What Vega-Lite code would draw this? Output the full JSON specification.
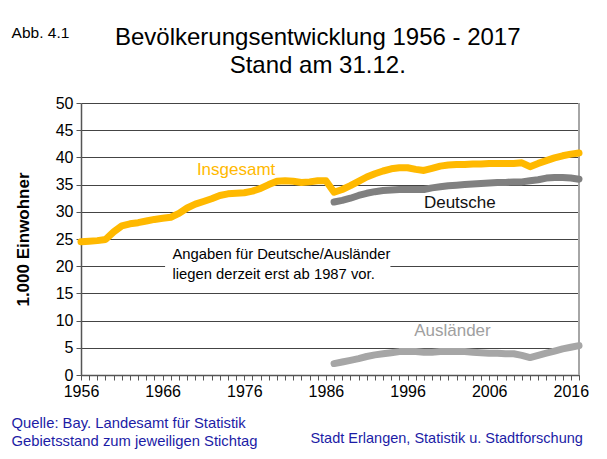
{
  "$schema": "https://vega.github.io/schema/vega-lite/v6.json",
  "width": 498,
  "height": 272,
  "autosize": {"type": "none"},
  "padding": {"left": 81, "top": 103, "right": 28, "bottom": 84},
  "background": "white",
  "config": {
    "font": "Liberation Sans",
    "view": {"stroke": null}
  },
  "datasets": {
    "pop": [
      {"year": 1956, "series": "Insgesamt", "value": 24.5},
      {"year": 1957, "series": "Insgesamt", "value": 24.6},
      {"year": 1958, "series": "Insgesamt", "value": 24.7},
      {"year": 1959, "series": "Insgesamt", "value": 24.9},
      {"year": 1960, "series": "Insgesamt", "value": 26.3},
      {"year": 1961, "series": "Insgesamt", "value": 27.4},
      {"year": 1962, "series": "Insgesamt", "value": 27.8},
      {"year": 1963, "series": "Insgesamt", "value": 28.0},
      {"year": 1964, "series": "Insgesamt", "value": 28.3},
      {"year": 1965, "series": "Insgesamt", "value": 28.6},
      {"year": 1966, "series": "Insgesamt", "value": 28.8},
      {"year": 1967, "series": "Insgesamt", "value": 29.0},
      {"year": 1968, "series": "Insgesamt", "value": 29.7},
      {"year": 1969, "series": "Insgesamt", "value": 30.7},
      {"year": 1970, "series": "Insgesamt", "value": 31.4},
      {"year": 1971, "series": "Insgesamt", "value": 31.9},
      {"year": 1972, "series": "Insgesamt", "value": 32.4},
      {"year": 1973, "series": "Insgesamt", "value": 33.0},
      {"year": 1974, "series": "Insgesamt", "value": 33.3},
      {"year": 1975, "series": "Insgesamt", "value": 33.4},
      {"year": 1976, "series": "Insgesamt", "value": 33.5},
      {"year": 1977, "series": "Insgesamt", "value": 33.8},
      {"year": 1978, "series": "Insgesamt", "value": 34.3},
      {"year": 1979, "series": "Insgesamt", "value": 35.0},
      {"year": 1980, "series": "Insgesamt", "value": 35.6},
      {"year": 1981, "series": "Insgesamt", "value": 35.7},
      {"year": 1982, "series": "Insgesamt", "value": 35.6},
      {"year": 1983, "series": "Insgesamt", "value": 35.4},
      {"year": 1984, "series": "Insgesamt", "value": 35.5},
      {"year": 1985, "series": "Insgesamt", "value": 35.7},
      {"year": 1986, "series": "Insgesamt", "value": 35.7},
      {"year": 1987, "series": "Insgesamt", "value": 33.6},
      {"year": 1988, "series": "Insgesamt", "value": 34.1},
      {"year": 1989, "series": "Insgesamt", "value": 34.8},
      {"year": 1990, "series": "Insgesamt", "value": 35.6},
      {"year": 1991, "series": "Insgesamt", "value": 36.4},
      {"year": 1992, "series": "Insgesamt", "value": 37.0},
      {"year": 1993, "series": "Insgesamt", "value": 37.5},
      {"year": 1994, "series": "Insgesamt", "value": 37.9},
      {"year": 1995, "series": "Insgesamt", "value": 38.1},
      {"year": 1996, "series": "Insgesamt", "value": 38.1},
      {"year": 1997, "series": "Insgesamt", "value": 37.8},
      {"year": 1998, "series": "Insgesamt", "value": 37.6},
      {"year": 1999, "series": "Insgesamt", "value": 38.0},
      {"year": 2000, "series": "Insgesamt", "value": 38.4},
      {"year": 2001, "series": "Insgesamt", "value": 38.6},
      {"year": 2002, "series": "Insgesamt", "value": 38.7},
      {"year": 2003, "series": "Insgesamt", "value": 38.7},
      {"year": 2004, "series": "Insgesamt", "value": 38.8},
      {"year": 2005, "series": "Insgesamt", "value": 38.8},
      {"year": 2006, "series": "Insgesamt", "value": 38.9},
      {"year": 2007, "series": "Insgesamt", "value": 38.9},
      {"year": 2008, "series": "Insgesamt", "value": 38.9},
      {"year": 2009, "series": "Insgesamt", "value": 38.9},
      {"year": 2010, "series": "Insgesamt", "value": 39.0},
      {"year": 2011, "series": "Insgesamt", "value": 38.3},
      {"year": 2012, "series": "Insgesamt", "value": 38.9},
      {"year": 2013, "series": "Insgesamt", "value": 39.4},
      {"year": 2014, "series": "Insgesamt", "value": 39.9},
      {"year": 2015, "series": "Insgesamt", "value": 40.3},
      {"year": 2016, "series": "Insgesamt", "value": 40.6},
      {"year": 2017, "series": "Insgesamt", "value": 40.8},
      {"year": 1987, "series": "Deutsche", "value": 31.8},
      {"year": 1988, "series": "Deutsche", "value": 32.1},
      {"year": 1989, "series": "Deutsche", "value": 32.5},
      {"year": 1990, "series": "Deutsche", "value": 33.0},
      {"year": 1991, "series": "Deutsche", "value": 33.4},
      {"year": 1992, "series": "Deutsche", "value": 33.7},
      {"year": 1993, "series": "Deutsche", "value": 33.9},
      {"year": 1994, "series": "Deutsche", "value": 34.0},
      {"year": 1995, "series": "Deutsche", "value": 34.1},
      {"year": 1996, "series": "Deutsche", "value": 34.1},
      {"year": 1997, "series": "Deutsche", "value": 34.1},
      {"year": 1998, "series": "Deutsche", "value": 34.1},
      {"year": 1999, "series": "Deutsche", "value": 34.4},
      {"year": 2000, "series": "Deutsche", "value": 34.6},
      {"year": 2001, "series": "Deutsche", "value": 34.8},
      {"year": 2002, "series": "Deutsche", "value": 34.9},
      {"year": 2003, "series": "Deutsche", "value": 35.0},
      {"year": 2004, "series": "Deutsche", "value": 35.1},
      {"year": 2005, "series": "Deutsche", "value": 35.2},
      {"year": 2006, "series": "Deutsche", "value": 35.3},
      {"year": 2007, "series": "Deutsche", "value": 35.4},
      {"year": 2008, "series": "Deutsche", "value": 35.4},
      {"year": 2009, "series": "Deutsche", "value": 35.5},
      {"year": 2010, "series": "Deutsche", "value": 35.5},
      {"year": 2011, "series": "Deutsche", "value": 35.7},
      {"year": 2012, "series": "Deutsche", "value": 35.9},
      {"year": 2013, "series": "Deutsche", "value": 36.2},
      {"year": 2014, "series": "Deutsche", "value": 36.3},
      {"year": 2015, "series": "Deutsche", "value": 36.3},
      {"year": 2016, "series": "Deutsche", "value": 36.2},
      {"year": 2017, "series": "Deutsche", "value": 36.0},
      {"year": 1987, "series": "Ausländer", "value": 2.1},
      {"year": 1988, "series": "Ausländer", "value": 2.4},
      {"year": 1989, "series": "Ausländer", "value": 2.7},
      {"year": 1990, "series": "Ausländer", "value": 3.0},
      {"year": 1991, "series": "Ausländer", "value": 3.4},
      {"year": 1992, "series": "Ausländer", "value": 3.7},
      {"year": 1993, "series": "Ausländer", "value": 3.9},
      {"year": 1994, "series": "Ausländer", "value": 4.1},
      {"year": 1995, "series": "Ausländer", "value": 4.3},
      {"year": 1996, "series": "Ausländer", "value": 4.3},
      {"year": 1997, "series": "Ausländer", "value": 4.3},
      {"year": 1998, "series": "Ausländer", "value": 4.2},
      {"year": 1999, "series": "Ausländer", "value": 4.2},
      {"year": 2000, "series": "Ausländer", "value": 4.3},
      {"year": 2001, "series": "Ausländer", "value": 4.3},
      {"year": 2002, "series": "Ausländer", "value": 4.3},
      {"year": 2003, "series": "Ausländer", "value": 4.3},
      {"year": 2004, "series": "Ausländer", "value": 4.2},
      {"year": 2005, "series": "Ausländer", "value": 4.1},
      {"year": 2006, "series": "Ausländer", "value": 4.0},
      {"year": 2007, "series": "Ausländer", "value": 4.0},
      {"year": 2008, "series": "Ausländer", "value": 3.9},
      {"year": 2009, "series": "Ausländer", "value": 3.9},
      {"year": 2010, "series": "Ausländer", "value": 3.6},
      {"year": 2011, "series": "Ausländer", "value": 3.2},
      {"year": 2012, "series": "Ausländer", "value": 3.6},
      {"year": 2013, "series": "Ausländer", "value": 4.0},
      {"year": 2014, "series": "Ausländer", "value": 4.4},
      {"year": 2015, "series": "Ausländer", "value": 4.8},
      {"year": 2016, "series": "Ausländer", "value": 5.1},
      {"year": 2017, "series": "Ausländer", "value": 5.4}
    ]
  },
  "layer": [
    {
      "data": {"name": "pop"},
      "mark": {"type": "line", "strokeWidth": 7, "strokeCap": "round", "strokeJoin": "round", "opacity": 0},
      "encoding": {
        "x": {"field": "year", "type": "quantitative",
          "scale": {"domain": [1956, 2017], "nice": false, "zero": false},
          "axis": {
            "title": null,
            "values": [1956,1957,1958,1959,1960,1961,1962,1963,1964,1965,1966,1967,1968,1969,1970,1971,1972,1973,1974,1975,1976,1977,1978,1979,1980,1981,1982,1983,1984,1985,1986,1987,1988,1989,1990,1991,1992,1993,1994,1995,1996,1997,1998,1999,2000,2001,2002,2003,2004,2005,2006,2007,2008,2009,2010,2011,2012,2013,2014,2015,2016,2017],
            "tickCount": 200,
            "labelExpr": "(datum.value - 1956) % 10 === 0 ? format(datum.value, 'd') : ''",
            "labelOverlap": false,
            "labelFlush": false,
            "labelFont": "Liberation Sans",
            "labelFontSize": 16,
            "labelColor": "#000000",
            "labelPadding": 3,
            "tickSize": 5,
            "tickColor": "#555555",
            "domainColor": "#555555",
            "domainWidth": 1.5,
            "grid": false
          }},
        "y": {"field": "value", "type": "quantitative",
          "scale": {"domain": [0, 50], "nice": false},
          "axis": {
            "title": "1.000 Einwohner",
            "values": [0,5,10,15,20,25,30,35,40,45,50],
            "tickCount": 50,
            "labelOverlap": false,
            "titleFont": "Liberation Sans",
            "titleFontSize": 17,
            "titleFontWeight": "bold",
            "titleColor": "#000000",
            "titlePadding": 23,
            "labelFont": "Liberation Sans",
            "labelFontSize": 16,
            "labelColor": "#000000",
            "labelPadding": 3,
            "tickSize": 5,
            "tickColor": "#555555",
            "domainColor": "#555555",
            "domainWidth": 1.5,
            "grid": true,
            "gridColor": "#444444",
            "gridWidth": 1
          }},
        "detail": {"field": "series"},
        "color": {"field": "series", "type": "nominal",
          "scale": {"domain": ["Insgesamt", "Deutsche", "Ausländer"], "range": ["#FFB900", "#808080", "#A6A6A6"]},
          "legend": null}
      }
    },
    {
      "data": {"values": [{"note": "box"}]},
      "mark": {"type": "rect", "fill": "white", "stroke": null},
      "encoding": {
        "x": {"datum": 1966.3, "type": "quantitative"},
        "x2": {"datum": 1993.9},
        "y": {"datum": 17, "type": "quantitative"},
        "y2": {"datum": 23.8}
      }
    },
    {
      "data": {"values": [{"note": "border"}]},
      "mark": {"type": "rule", "color": "#A6A6A6", "strokeWidth": 2},
      "encoding": {
        "x": {"datum": 2017, "type": "quantitative"},
        "y": {"datum": 0, "type": "quantitative"},
        "y2": {"datum": 50}
      }
    },
    {
      "data": {"name": "pop"},
      "transform": [{"filter": "datum.series !== 'Insgesamt'"}],
      "mark": {"type": "line", "strokeWidth": 7, "strokeCap": "round", "strokeJoin": "round"},
      "encoding": {
        "x": {"field": "year", "type": "quantitative"},
        "y": {"field": "value", "type": "quantitative"},
        "detail": {"field": "series"},
        "color": {"field": "series", "type": "nominal"}
      }
    },
    {
      "data": {"name": "pop"},
      "transform": [{"filter": "datum.series === 'Insgesamt'"}],
      "mark": {"type": "line", "strokeWidth": 7, "strokeCap": "round", "strokeJoin": "round"},
      "encoding": {
        "x": {"field": "year", "type": "quantitative"},
        "y": {"field": "value", "type": "quantitative"},
        "color": {"field": "series", "type": "nominal"}
      }
    },
    {
      "data": {"values": [{"label": "Insgesamt"}]},
      "mark": {"type": "text", "fontSize": 17, "color": "#FFB900", "align": "center", "baseline": "middle"},
      "encoding": {
        "text": {"field": "label"},
        "x": {"datum": 1975, "type": "quantitative"},
        "y": {"datum": 37.7, "type": "quantitative"}
      }
    },
    {
      "data": {"values": [{"label": "Deutsche"}]},
      "mark": {"type": "text", "fontSize": 17, "color": "#111111", "align": "center", "baseline": "middle"},
      "encoding": {
        "text": {"field": "label"},
        "x": {"datum": 2002.4, "type": "quantitative"},
        "y": {"datum": 31.6, "type": "quantitative"}
      }
    },
    {
      "data": {"values": [{"label": "Ausländer"}]},
      "mark": {"type": "text", "fontSize": 17, "color": "#A0A0A0", "align": "center", "baseline": "middle"},
      "encoding": {
        "text": {"field": "label"},
        "x": {"datum": 2001.5, "type": "quantitative"},
        "y": {"datum": 8.1, "type": "quantitative"}
      }
    },
    {
      "data": {"values": [{"label": "note"}]},
      "mark": {"type": "text", "fontSize": 14.8, "color": "#000000", "align": "left", "baseline": "middle", "lineHeight": 20},
      "encoding": {
        "text": {"value": ["Angaben für Deutsche/Ausländer", "liegen derzeit erst ab 1987 vor."]},
        "x": {"datum": 1967.2, "type": "quantitative"},
        "y": {"datum": 22.0, "type": "quantitative"}
      }
    },
    {
      "data": {"values": [{"label": "title"}]},
      "mark": {"type": "text", "fontSize": 24, "color": "#000000", "align": "center", "baseline": "middle", "lineHeight": 28.5},
      "encoding": {
        "text": {"value": ["Bevölkerungsentwicklung 1956 - 2017", "Stand am 31.12."]},
        "x": {"datum": 1985.0, "type": "quantitative"},
        "y": {"datum": 61.95, "type": "quantitative"}
      }
    },
    {
      "data": {"values": [{"label": "Abb. 4.1"}]},
      "mark": {"type": "text", "fontSize": 15.5, "color": "#000000", "align": "left", "baseline": "middle"},
      "encoding": {
        "text": {"field": "label"},
        "x": {"datum": 1947.5, "type": "quantitative"},
        "y": {"datum": 62.9, "type": "quantitative"}
      }
    },
    {
      "data": {"values": [{"label": "Quelle"}]},
      "mark": {"type": "text", "fontSize": 14.8, "color": "#1C1CA6", "align": "left", "baseline": "middle", "lineHeight": 18},
      "encoding": {
        "text": {"value": ["Quelle: Bay. Landesamt für Statistik", "Gebietsstand zum jeweiligen Stichtag"]},
        "x": {"datum": 1947.5, "type": "quantitative"},
        "y": {"datum": -9.0, "type": "quantitative"}
      }
    },
    {
      "data": {"values": [{"label": "Stadt Erlangen, Statistik u. Stadtforschung"}]},
      "mark": {"type": "text", "fontSize": 14.5, "color": "#1C1CA6", "align": "left", "baseline": "middle"},
      "encoding": {
        "text": {"field": "label"},
        "x": {"datum": 1984.1, "type": "quantitative"},
        "y": {"datum": -11.8, "type": "quantitative"}
      }
    }
  ]
}
